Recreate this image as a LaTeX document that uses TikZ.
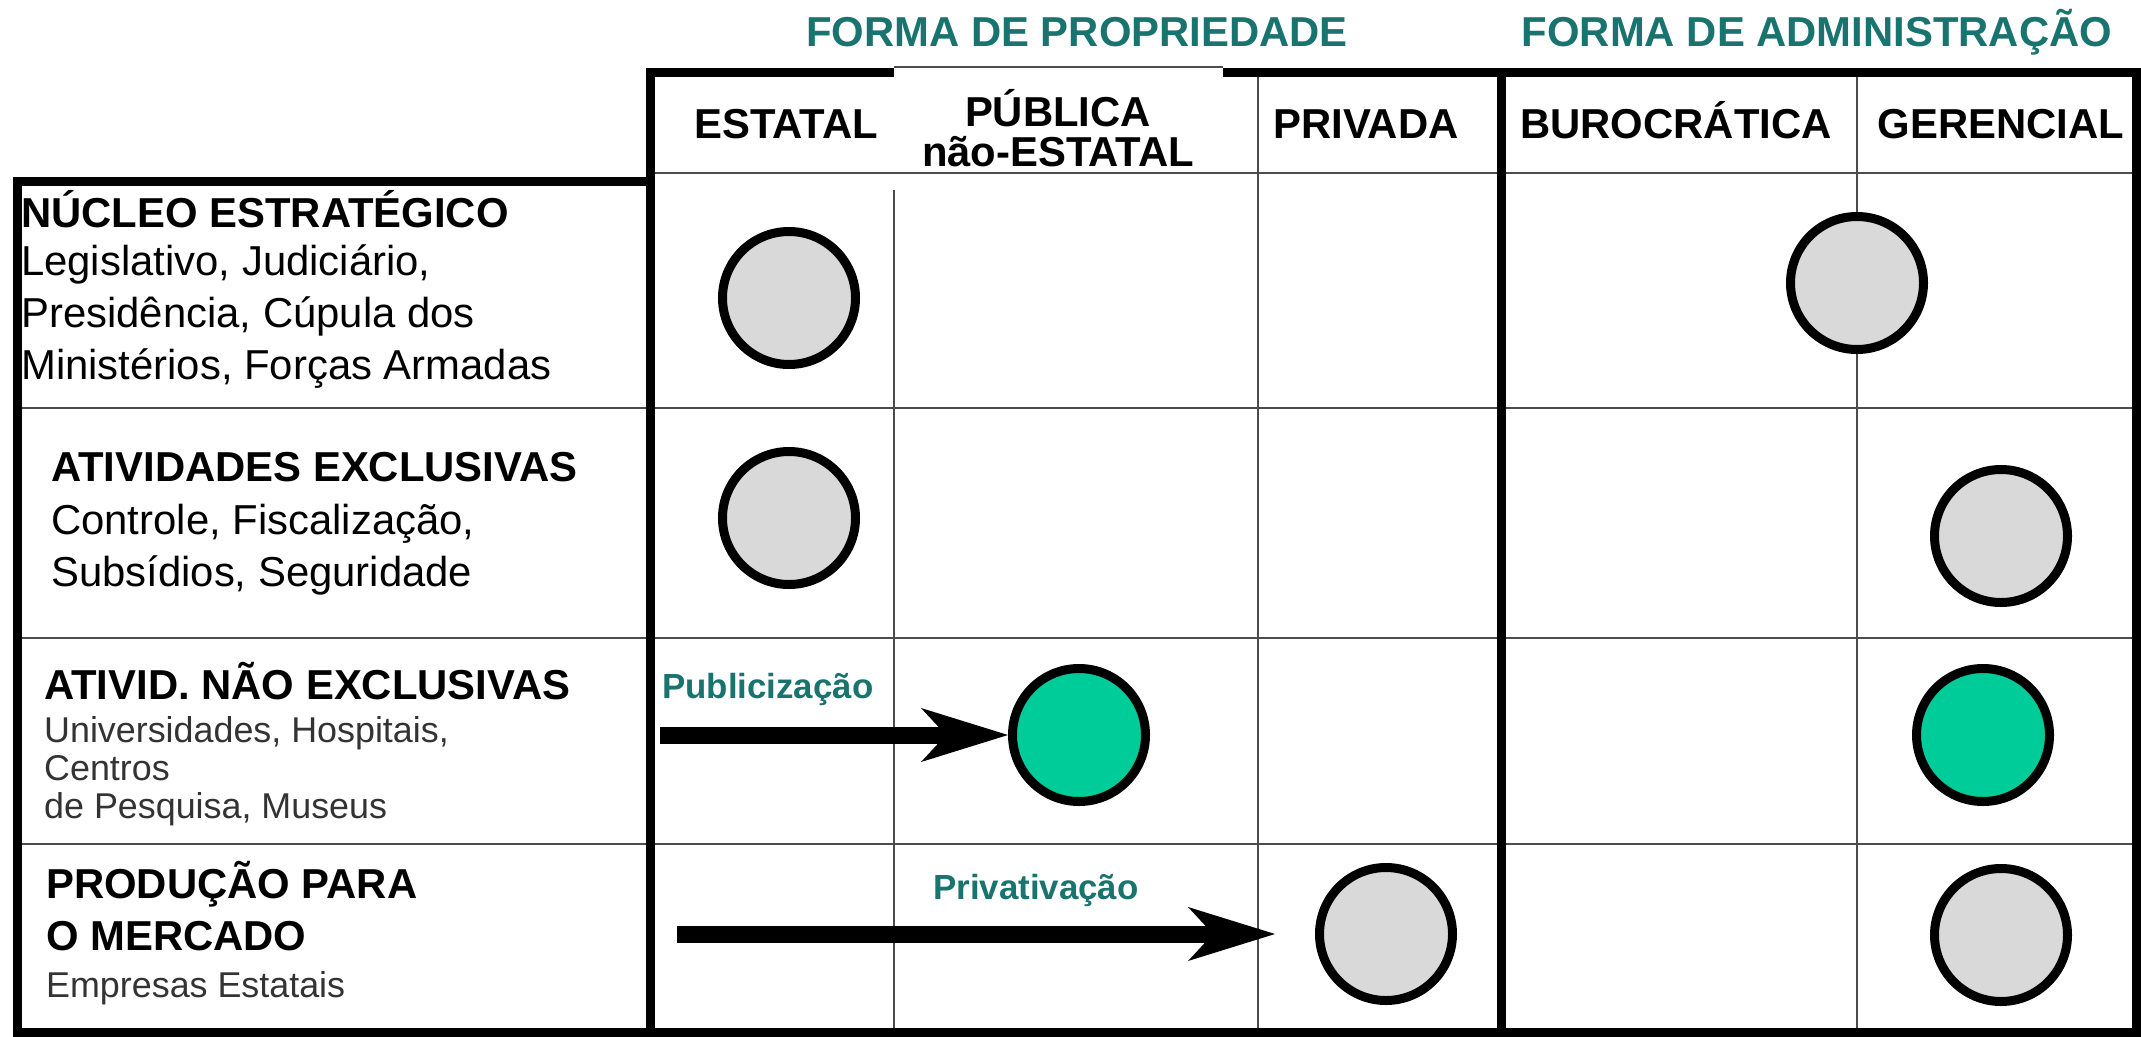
\documentclass[tikz,border=0pt]{standalone}
\usepackage{fontspec}
\setmainfont{Liberation Sans}
\usetikzlibrary{arrows.meta}

\definecolor{grigio}{RGB}{217,217,217}
\definecolor{verde}{RGB}{0,204,153}
\definecolor{petrolio}{RGB}{25,115,110}

\tikzset{
    bolla/.style={circle, draw, line width=9bp, minimum size=133bp, inner sep=0pt, fill=grigio},
    spessa/.style={line width=9bp},
    sottile/.style={line width=2.5bp, draw=black!70},
    freccia/.style={line width=17bp, -{Stealth[length=87bp, width=54bp, inset=25bp, line width=0pt 0]}},
    titolo/.style={font=\fontsize{42}{46}\selectfont\bfseries, text=petrolio, anchor=base},
    intest/.style={font=\fontsize{42}{40}\selectfont\bfseries, anchor=base, align=center},
    voce/.style={font=\fontsize{42}{52}\selectfont\bfseries, anchor=base west, align=left, inner sep=0pt},
    descr/.style={font=\fontsize{42}{52}\selectfont, anchor=base west, align=left, inner sep=0pt},
    piccola/.style={font=\fontsize{36}{38}\selectfont, text=black!80, anchor=base west, align=left, inner sep=0pt},
    etich/.style={font=\fontsize{35}{40}\selectfont\bfseries, text=petrolio, anchor=base west, inner sep=0pt}
}

\begin{document}
\begin{tikzpicture}[x=1bp, y=-1bp]
    \useasboundingbox (0,0) rectangle (2141,1037);

    % Titoli sopra la tabella
    \node[titolo] (tprop) at (1077,46) {FORMA DE PROPRIEDADE};
    \node[titolo] (tamm) at (1817,46) {FORMA DE ADMINISTRAÇÃO};

    % Linee sottili della griglia
    \foreach \y in {408,638,844} {
        \draw[sottile] (14,\y) -- (2136,\y);
    }
    \foreach \x in {1258,1857} {
        \draw[sottile] (\x,72) -- (\x,1032);
    }
    \draw[sottile] (894,190) -- (894,1032);
    \draw[sottile] (650,173) -- (2136,173);
    \draw[sottile] (894,67) -- (1223,67);

    % Bordi spessi
    \draw[spessa] (894,72) -- (650,72) -- (650,181) -- (17,181) -- (17,1032) -- (2136,1032) -- (2136,72) -- (1223,72);
    \draw[spessa] (650,181) -- (650,1032);
    \draw[spessa] (1501,72) -- (1501,1032);

    % Intestazioni delle colonne (base = ultima riga)
    \node[intest] (cest) at (786,138) {ESTATAL};
    \node[intest] (cpub) at (1058,166) {PÚBLICA\\não-ESTATAL};
    \node[intest] (cpriv) at (1366,138) {PRIVADA};
    \node[intest] (cbur) at (1676,138) {BUROCRÁTICA};
    \node[intest] (cger) at (2001,138) {GERENCIAL};

    % Righe: nome e descrizione
    \node[voce] (rnuc) at (21,227) {NÚCLEO ESTRATÉGICO};
    \node[descr] (dnuc) at (21,379) {Legislativo, Judiciário,\\Presidência, Cúpula dos\\Ministérios, Forças Armadas};
    \node[voce] (rexc) at (51,481) {ATIVIDADES EXCLUSIVAS};
    \node[descr] (dexc) at (51,586) {Controle, Fiscalização,\\Subsídios, Seguridade};
    \node[voce] (rnex) at (44,699) {ATIVID. NÃO EXCLUSIVAS};
    \node[piccola] (dnex) at (44,818) {Universidades, Hospitais,\\Centros\\de Pesquisa, Museus};
    \node[voce] (rmer) at (46,950) {PRODUÇÃO PARA\\O MERCADO};
    \node[piccola] (dmer) at (46,997) {Empresas Estatais};

    % Cerchi
    \node[bolla] (nuc-est) at (789,298) {};
    \node[bolla] (nuc-adm) at (1857,283) {};
    \node[bolla] (exc-est) at (789,518) {};
    \node[bolla] (exc-ger) at (2001,536) {};
    \node[bolla, fill=verde] (nex-pub) at (1079,735) {};
    \node[bolla, fill=verde] (nex-ger) at (1983,735) {};
    \node[bolla] (mer-priv) at (1386,934) {};
    \node[bolla] (mer-ger) at (2001,935) {};

    % Frecce
    \coordinate (pub-da) at (660,735);
    \draw[freccia] (pub-da) -- (nex-pub.west);
    \node[etich] (lpub) at (662,698) {Publicização};
    \coordinate (priv-da) at (677,934);
    \draw[freccia, shorten >=40bp] (priv-da) -- (mer-priv.west);
    \node[etich] (lpriv) at (933,899) {Privativação};
\end{tikzpicture}
\end{document}
